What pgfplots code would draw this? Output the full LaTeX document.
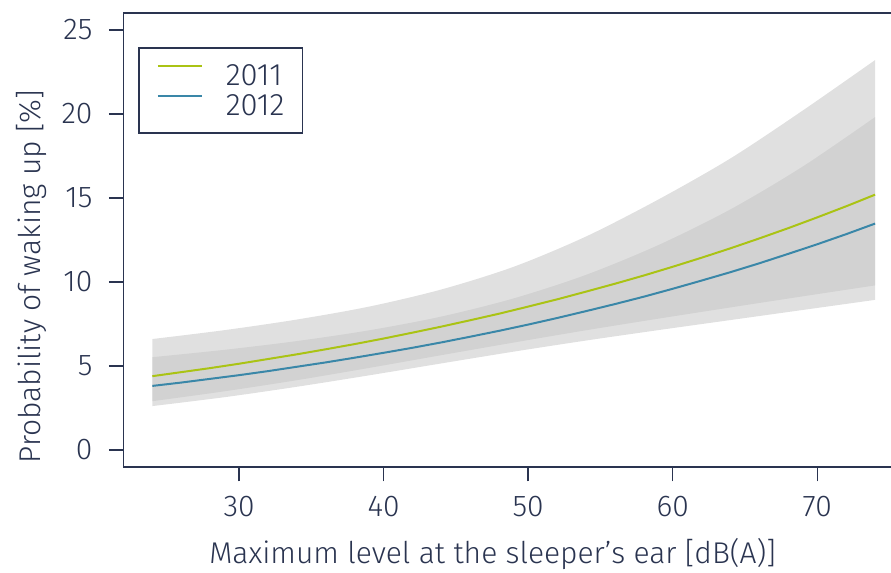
\documentclass[border=0pt]{standalone}
\usepackage{fontspec}
\setmainfont{Fira Sans Light}
\usepackage{pgfplots}
\pgfplotsset{compat=1.18}
\usepgfplotslibrary{fillbetween}
\definecolor{navy}{RGB}{42,52,80}
\definecolor{c2011}{RGB}{170,195,20}
\definecolor{c2012}{RGB}{58,135,168}
\begin{document}
\begin{tikzpicture}
\begin{axis}[
  name=ax, scale only axis, width=767.3pt, height=453.6pt,
  xmin=22, xmax=75.1, ymin=-1, ymax=26,
  axis x line*=box, axis y line*=left,
  xtick={30,40,50,60,70}, ytick={0,5,10,15,20,25},
  xtick pos=left, ytick pos=left,
  tick align=outside, major tick length=14.5pt,
  axis line style={-, navy, line width=1.5pt},
  tick style={navy, line width=1.5pt},
  ticklabel style={font=\fontsize{30}{36}\selectfont, text=navy},
  xticklabel style={yshift=-11pt},
  yticklabel style={xshift=-13pt},
  /pgf/number format/assume math mode=true,
  xlabel={Maximum level at the sleeper’s ear [dB(A)]},
  ylabel={Probability of waking up [\%]},
  label style={font=\fontsize{30}{36}\selectfont, text=navy},
  xlabel style={at={(axis description cs:0.481,-0.213)}, anchor=base},
  ylabel style={at={(axis description cs:-0.1087,0.419)}, anchor=base},
  legend style={at={(axis description cs:0.019,0.925)}, anchor=north west,
    draw=navy, line width=1.5pt, font=\fontsize{31}{36}\selectfont, text=navy,
    inner xsep=18pt, inner ysep=17pt, row sep=9pt,
    nodes={inner sep=0pt, text height=20pt, text depth=0pt},
    /tikz/every odd column/.append style={column sep=23pt}},
  legend cell align=left,
  legend image code/.code={\draw[#1] (0pt,10pt) -- (44pt,10pt);},
]
% confidence band 2011
\addplot[name path=u11, draw=none, smooth, forget plot] coordinates {
(24,6.60) (29,7.13) (34,7.76) (39,8.53) (44,9.55) (49,10.90) (54,12.70) (59,14.90) (64,17.35) (69,20.20) (74,23.20)};
\addplot[name path=l11, draw=none, smooth, forget plot] coordinates {
(24,2.90) (29,3.49) (34,4.15) (39,4.88) (44,5.64) (49,6.39) (54,7.12) (59,7.81) (64,8.48) (69,9.14) (74,9.79)};
\addplot[fill=black!22, fill opacity=0.55, draw=none, forget plot] fill between[of=u11 and l11];
% confidence band 2012
\addplot[name path=u12, draw=none, smooth, forget plot] coordinates {
(24,5.52) (29,5.96) (34,6.48) (39,7.12) (44,7.94) (49,9.02) (54,10.42) (59,12.19) (64,14.32) (69,16.87) (74,19.81)};
\addplot[name path=l12, draw=none, smooth, forget plot] coordinates {
(24,2.61) (29,3.14) (34,3.76) (39,4.44) (44,5.15) (49,5.85) (54,6.51) (59,7.13) (64,7.73) (69,8.33) (74,8.93)};
\addplot[fill=black!22, fill opacity=0.55, draw=none, forget plot] fill between[of=u12 and l12];
\addplot[c2011, line width=2pt] coordinates {
(24,4.39) (26,4.63) (28,4.87) (30,5.13) (32,5.41) (34,5.69) (36,5.99) (38,6.30) (40,6.63) (42,6.98) (44,7.34) (46,7.72) (48,8.11)
(50,8.53) (52,8.96) (54,9.42) (56,9.89) (58,10.38) (60,10.90) (62,11.44) (64,12.00) (66,12.59) (68,13.20) (70,13.84) (72,14.50) (74,15.19)};
\addlegendentry{2011}
\addplot[c2012, line width=2pt] coordinates {
(24,3.81) (26,4.01) (28,4.23) (30,4.45) (32,4.69) (34,4.95) (36,5.21) (38,5.49) (40,5.78) (42,6.08) (44,6.40) (46,6.74) (48,7.09)
(50,7.46) (52,7.85) (54,8.26) (56,8.68) (58,9.12) (60,9.59) (62,10.08) (64,10.58) (66,11.11) (68,11.67) (70,12.24) (72,12.84) (74,13.47)};
\addlegendentry{2012}
\end{axis}
\pgfresetboundingbox
\path[use as bounding box] ([xshift=-123.4pt,yshift=-106pt]ax.south west) rectangle ([yshift=13pt]ax.north east);
\end{tikzpicture}
\end{document}
